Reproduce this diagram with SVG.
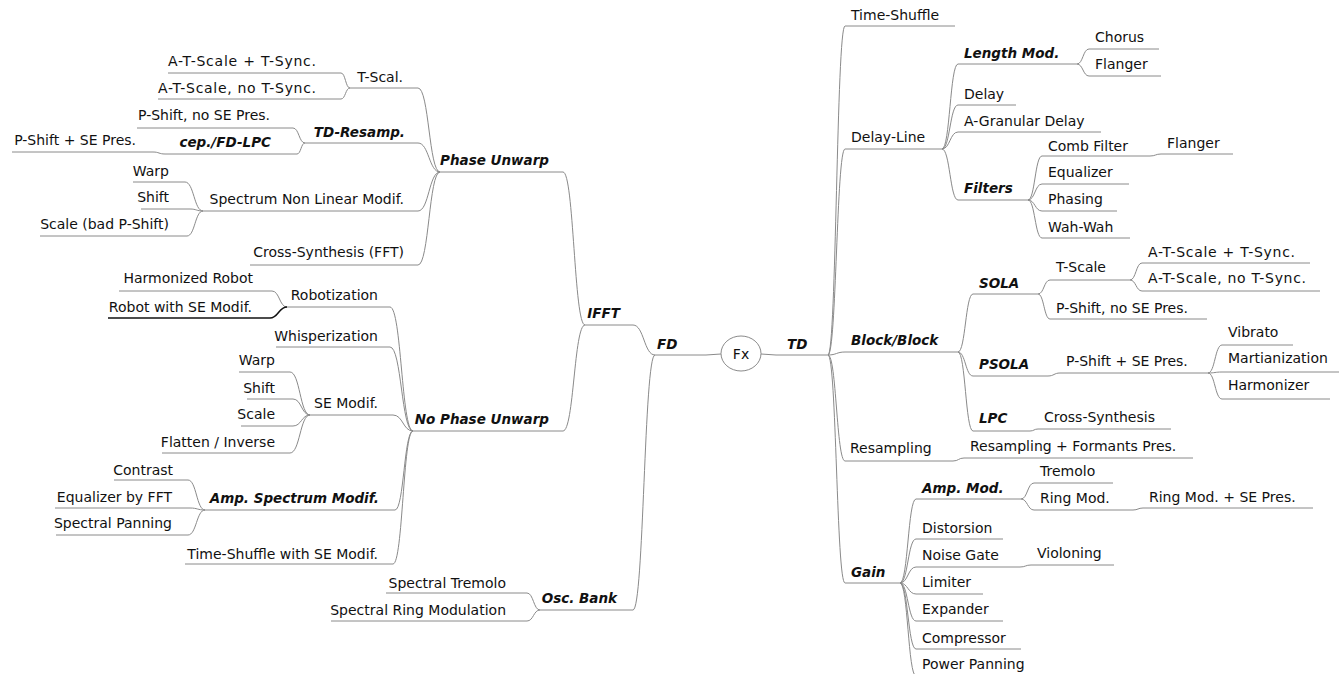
<svg xmlns="http://www.w3.org/2000/svg" width="1339" height="674" viewBox="0 0 1339 674">
<style>
text{font-family:"DejaVu Sans","Liberation Sans",sans-serif;font-size:14px;fill:#111}
.b{font-weight:bold;font-style:italic;font-size:13.5px}
.r{text-anchor:end}
.u{stroke:#8a8a8a;stroke-width:1;fill:none}
.e{stroke:#8a8a8a;stroke-width:1;fill:none}
.k{stroke:#111;stroke-width:1.5}
</style>
<rect width="1339" height="674" fill="#fff"/>
<g id="connectors">
<path class="e" d="M761,354 L776,355"/>
<path class="e" d="M706,355 L721,354"/>
<path class="e" d="M828,355 C836.5,355 836.5,26 845,26"/>
<path class="e" d="M828,355 C836.5,355 836.5,149 845,149"/>
<path class="e" d="M828,355 C836.5,355 836.5,352 845,352"/>
<path class="e" d="M828,355 C836.5,355 836.5,461 845,461"/>
<path class="e" d="M828,355 C836.5,355 836.5,583 845,583"/>
<path class="e" d="M942,149 C950,149 950,64 958,64"/>
<path class="e" d="M942,149 C950,149 950,105 958,105"/>
<path class="e" d="M942,149 C950,149 950,132 958,132"/>
<path class="e" d="M942,149 C950,149 950,200 958,200"/>
<path class="e" d="M1077,64 C1083,64 1083,49 1089,49"/>
<path class="e" d="M1077,64 C1083,64 1083,76 1089,76"/>
<path class="e" d="M1028,200 C1035,200 1035,156 1042,156"/>
<path class="e" d="M1028,200 C1035,200 1035,184 1042,184"/>
<path class="e" d="M1028,200 C1035,200 1035,211 1042,211"/>
<path class="e" d="M1028,200 C1035,200 1035,238 1042,238"/>
<path class="e" d="M1150,156 C1155.5,156 1155.5,154 1161,154"/>
<path class="e" d="M958,352 C965.5,352 965.5,294 973,294"/>
<path class="e" d="M958,352 C965.5,352 965.5,376 973,376"/>
<path class="e" d="M958,352 C965.5,352 965.5,431 973,431"/>
<path class="e" d="M1038,294 C1044,294 1044,280 1050,280"/>
<path class="e" d="M1038,294 C1044,294 1044,319 1050,319"/>
<path class="e" d="M1130,280 C1136,280 1136,263 1142,263"/>
<path class="e" d="M1130,280 C1136,280 1136,291 1142,291"/>
<path class="e" d="M1048,376 C1054,376 1054,373 1060,373"/>
<path class="e" d="M1208,373 C1215,373 1215,345 1222,345"/>
<path class="e" d="M1208,373 C1215,373 1215,372 1222,372"/>
<path class="e" d="M1208,373 C1215,373 1215,399 1222,399"/>
<path class="e" d="M1030,431 C1034,431 1034,429 1038,429"/>
<path class="e" d="M953,461 C958.5,461 958.5,458 964,458"/>
<path class="e" d="M900,583 C908,583 908,499 916,499"/>
<path class="e" d="M900,583 C908,583 908,539 916,539"/>
<path class="e" d="M900,583 C908,583 908,567 916,567"/>
<path class="e" d="M900,583 C908,583 908,594 916,594"/>
<path class="e" d="M900,583 C908,583 908,621 916,621"/>
<path class="e" d="M900,583 C908,583 908,649 916,649"/>
<path class="e" d="M900,583 C908,583 908,676 916,676"/>
<path class="e" d="M1021,499 C1027.5,499 1027.5,483 1034,483"/>
<path class="e" d="M1021,499 C1027.5,499 1027.5,510 1034,510"/>
<path class="e" d="M1133,510 C1138,510 1138,508 1143,508"/>
<path class="e" d="M1020,567 C1025.5,567 1025.5,565 1031,565"/>
<path class="e" d="M655,355 C644,355 644,325 633,325"/>
<path class="e" d="M655,355 C644,355 644,610 633,610"/>
<path class="e" d="M585,325 C574,325 574,172 563,172"/>
<path class="e" d="M585,325 C574,325 574,431 563,431"/>
<path class="e" d="M440,172 C429,172 429,88 418,88"/>
<path class="e" d="M440,172 C429,172 429,143 418,143"/>
<path class="e" d="M440,172 C429,172 429,211 418,211"/>
<path class="e" d="M440,172 C429,172 429,265 418,265"/>
<path class="e" d="M350,88 C345.5,88 345.5,73 341,73"/>
<path class="e" d="M350,88 C345.5,88 345.5,99 341,99"/>
<path class="e" d="M305,143 C299,143 299,128 293,128"/>
<path class="e" d="M305,143 C301,143 301,154 297,154"/>
<path class="e" d="M165,154 C159,154 159,152 153,152"/>
<path class="e" d="M203,211 C194,211 194,182 185,182"/>
<path class="e" d="M203,211 C196.5,211 196.5,209 190,209"/>
<path class="e" d="M203,211 C195,211 195,236 187,236"/>
<path class="e" d="M413,431 C401.5,431 401.5,307 390,307"/>
<path class="e" d="M413,431 C401.5,431 401.5,347 390,347"/>
<path class="e" d="M413,431 C403,431 403,415 393,415"/>
<path class="e" d="M413,431 C404,431 404,510 395,510"/>
<path class="e" d="M413,431 C403,431 403,564 393,564"/>
<path class="e" d="M287,307 C279.5,307 279.5,291 272,291"/>
<path class="e k" d="M287,307 C278.5,307 278.5,318 270,318"/>
<path class="e" d="M310,415 C300,415 300,372 290,372"/>
<path class="e" d="M310,415 C301.5,415 301.5,399 293,399"/>
<path class="e" d="M310,415 C301.5,415 301.5,426 293,426"/>
<path class="e" d="M310,415 C300,415 300,453 290,453"/>
<path class="e" d="M205,510 C196.5,510 196.5,480 188,480"/>
<path class="e" d="M205,510 C197.5,510 197.5,508 190,508"/>
<path class="e" d="M205,510 C196.5,510 196.5,535 188,535"/>
<path class="e" d="M540,610 C533.5,610 533.5,593 527,593"/>
<path class="e" d="M540,610 C533.5,610 533.5,621 527,621"/>
</g>
<g id="n-fx"><ellipse cx="741" cy="353.5" rx="20" ry="17.5" fill="#fff" stroke="#8a8a8a"/><text x="741" y="358.5" text-anchor="middle">Fx</text></g>
<g id="n-td"><line class="u" x1="776" y1="355" x2="828" y2="355"/><text class="b" x="787" y="349">TD</text></g>
<g id="n-timeshuffle"><line class="u" x1="845" y1="26" x2="955" y2="26"/><text x="851" y="20">Time-Shuffle</text></g>
<g id="n-delayline"><line class="u" x1="845" y1="149" x2="942" y2="149"/><text x="851" y="142">Delay-Line</text></g>
<g id="n-lengthmod"><line class="u" x1="958" y1="64" x2="1077" y2="64"/><text class="b" x="964" y="58">Length Mod.</text></g>
<g id="n-chorus"><line class="u" x1="1089" y1="49" x2="1159" y2="49"/><text x="1095" y="42">Chorus</text></g>
<g id="n-flanger1"><line class="u" x1="1089" y1="76" x2="1161" y2="76"/><text x="1095" y="69">Flanger</text></g>
<g id="n-delay"><line class="u" x1="958" y1="105" x2="1016" y2="105"/><text x="964" y="99">Delay</text></g>
<g id="n-agranular"><line class="u" x1="958" y1="132" x2="1101" y2="132"/><text x="964" y="126">A-Granular Delay</text></g>
<g id="n-filters"><line class="u" x1="958" y1="200" x2="1028" y2="200"/><text class="b" x="964" y="193">Filters</text></g>
<g id="n-comb"><line class="u" x1="1042" y1="156" x2="1150" y2="156"/><text x="1048" y="151">Comb Filter</text></g>
<g id="n-flanger2"><line class="u" x1="1161" y1="154" x2="1233" y2="154"/><text x="1167" y="148">Flanger</text></g>
<g id="n-equalizer"><line class="u" x1="1042" y1="184" x2="1129" y2="184"/><text x="1048" y="177">Equalizer</text></g>
<g id="n-phasing"><line class="u" x1="1042" y1="211" x2="1117" y2="211"/><text x="1048" y="204">Phasing</text></g>
<g id="n-wahwah"><line class="u" x1="1042" y1="238" x2="1130" y2="238"/><text x="1048" y="232">Wah-Wah</text></g>
<g id="n-block"><line class="u" x1="845" y1="352" x2="958" y2="352"/><text class="b" x="851" y="345">Block/Block</text></g>
<g id="n-sola"><line class="u" x1="973" y1="294" x2="1038" y2="294"/><text class="b" x="979" y="288">SOLA</text></g>
<g id="n-tscale"><line class="u" x1="1050" y1="280" x2="1130" y2="280"/><text x="1056" y="272">T-Scale</text></g>
<g id="n-ats1"><line class="u" x1="1142" y1="263" x2="1310" y2="263"/><text x="1148" y="257" textLength="147">A-T-Scale + T-Sync.</text></g>
<g id="n-ats2"><line class="u" x1="1142" y1="291" x2="1320" y2="291"/><text x="1148" y="283" textLength="158">A-T-Scale, no T-Sync.</text></g>
<g id="n-pshiftnose"><line class="u" x1="1050" y1="319" x2="1207" y2="319"/><text x="1056" y="313">P-Shift, no SE Pres.</text></g>
<g id="n-psola"><line class="u" x1="973" y1="376" x2="1048" y2="376"/><text class="b" x="979" y="369">PSOLA</text></g>
<g id="n-pshiftse"><line class="u" x1="1060" y1="373" x2="1208" y2="373"/><text x="1066" y="366">P-Shift + SE Pres.</text></g>
<g id="n-vibrato"><line class="u" x1="1222" y1="345" x2="1293" y2="345"/><text x="1228" y="337">Vibrato</text></g>
<g id="n-martian"><line class="u" x1="1222" y1="372" x2="1339" y2="372"/><text x="1228" y="363">Martianization</text></g>
<g id="n-harmonizer"><line class="u" x1="1222" y1="399" x2="1330" y2="399"/><text x="1228" y="390">Harmonizer</text></g>
<g id="n-lpc"><line class="u" x1="973" y1="431" x2="1030" y2="431"/><text class="b" x="979" y="423">LPC</text></g>
<g id="n-crosssynth"><line class="u" x1="1038" y1="429" x2="1171" y2="429"/><text x="1044" y="422">Cross-Synthesis</text></g>
<g id="n-resampling"><line class="u" x1="845" y1="461" x2="953" y2="461"/><text x="850" y="453">Resampling</text></g>
<g id="n-resformants"><line class="u" x1="964" y1="458" x2="1193" y2="458"/><text x="970" y="451">Resampling + Formants Pres.</text></g>
<g id="n-gain"><line class="u" x1="845" y1="583" x2="900" y2="583"/><text class="b" x="851" y="577">Gain</text></g>
<g id="n-ampmod"><line class="u" x1="916" y1="499" x2="1021" y2="499"/><text class="b" x="922" y="493">Amp. Mod.</text></g>
<g id="n-tremolo"><line class="u" x1="1034" y1="483" x2="1113" y2="483"/><text x="1040" y="476">Tremolo</text></g>
<g id="n-ringmod"><line class="u" x1="1034" y1="510" x2="1133" y2="510"/><text x="1040" y="503">Ring Mod.</text></g>
<g id="n-ringmodse"><line class="u" x1="1143" y1="508" x2="1313" y2="508"/><text x="1149" y="502">Ring Mod. + SE Pres.</text></g>
<g id="n-distorsion"><line class="u" x1="916" y1="539" x2="1003" y2="539"/><text x="922" y="533">Distorsion</text></g>
<g id="n-noisegate"><line class="u" x1="916" y1="567" x2="1020" y2="567"/><text x="922" y="560">Noise Gate</text></g>
<g id="n-violoning"><line class="u" x1="1031" y1="565" x2="1114" y2="565"/><text x="1037" y="558">Violoning</text></g>
<g id="n-limiter"><line class="u" x1="916" y1="594" x2="983" y2="594"/><text x="922" y="587">Limiter</text></g>
<g id="n-expander"><line class="u" x1="916" y1="621" x2="1003" y2="621"/><text x="922" y="614">Expander</text></g>
<g id="n-compressor"><line class="u" x1="916" y1="649" x2="1021" y2="649"/><text x="922" y="643">Compressor</text></g>
<g id="n-powerpanning"><line class="u" x1="916" y1="676" x2="1030" y2="676"/><text x="922" y="669">Power Panning</text></g>
<g id="n-fd"><line class="u" x1="655" y1="355" x2="706" y2="355"/><text class="b" x="657" y="349">FD</text></g>
<g id="n-ifft"><line class="u" x1="585" y1="325" x2="633" y2="325"/><text class="b r" x="620" y="318">IFFT</text></g>
<g id="n-phaseunwarp"><line class="u" x1="440" y1="172" x2="563" y2="172"/><text class="b r" x="549" y="165">Phase Unwarp</text></g>
<g id="n-tscal"><line class="u" x1="350" y1="88" x2="418" y2="88"/><text class="r" x="403" y="82">T-Scal.</text></g>
<g id="n-lats1"><line class="u" x1="168" y1="73" x2="341" y2="73"/><text class="r" x="316" y="66" textLength="148">A-T-Scale + T-Sync.</text></g>
<g id="n-lats2"><line class="u" x1="158" y1="99" x2="341" y2="99"/><text class="r" x="316" y="93" textLength="158">A-T-Scale, no T-Sync.</text></g>
<g id="n-tdresamp"><line class="u" x1="305" y1="143" x2="418" y2="143"/><text class="b r" x="405" y="137">TD-Resamp.</text></g>
<g id="n-lpshiftnose"><line class="u" x1="137" y1="128" x2="293" y2="128"/><text class="r" x="270" y="120">P-Shift, no SE Pres.</text></g>
<g id="n-cep"><line class="u" x1="165" y1="154" x2="297" y2="154"/><text class="b r" x="271" y="147">cep./FD-LPC</text></g>
<g id="n-lpshiftse"><line class="u" x1="12" y1="152" x2="153" y2="152"/><text class="r" x="136" y="145">P-Shift + SE Pres.</text></g>
<g id="n-snlm"><line class="u" x1="203" y1="211" x2="418" y2="211"/><text class="r" x="404" y="204">Spectrum Non Linear Modif.</text></g>
<g id="n-warp1"><line class="u" x1="133" y1="182" x2="185" y2="182"/><text class="r" x="169" y="176">Warp</text></g>
<g id="n-shift1"><line class="u" x1="141" y1="209" x2="190" y2="209"/><text class="r" x="169" y="202">Shift</text></g>
<g id="n-scalebad"><line class="u" x1="40" y1="236" x2="187" y2="236"/><text class="r" x="169" y="229">Scale (bad P-Shift)</text></g>
<g id="n-crossfft"><line class="u" x1="250" y1="265" x2="418" y2="265"/><text class="r" x="404" y="257">Cross-Synthesis (FFT)</text></g>
<g id="n-nophase"><line class="u" x1="413" y1="431" x2="563" y2="431"/><text class="b r" x="549" y="424">No Phase Unwarp</text></g>
<g id="n-robotization"><line class="u" x1="287" y1="307" x2="390" y2="307"/><text class="r" x="378" y="300">Robotization</text></g>
<g id="n-harmrobot"><line class="u" x1="119" y1="291" x2="272" y2="291"/><text class="r" x="253" y="283">Harmonized Robot</text></g>
<g id="n-robotse"><line class="u k" x1="108" y1="318" x2="270" y2="318"/><text class="r" x="252" y="312">Robot with SE Modif.</text></g>
<g id="n-whisper"><line class="u" x1="276" y1="347" x2="390" y2="347"/><text class="r" x="378" y="341">Whisperization</text></g>
<g id="n-semodif"><line class="u" x1="310" y1="415" x2="393" y2="415"/><text class="r" x="378" y="408">SE Modif.</text></g>
<g id="n-warp2"><line class="u" x1="239" y1="372" x2="290" y2="372"/><text class="r" x="275" y="365">Warp</text></g>
<g id="n-shift2"><line class="u" x1="247" y1="399" x2="293" y2="399"/><text class="r" x="275" y="393">Shift</text></g>
<g id="n-scale2"><line class="u" x1="241" y1="426" x2="293" y2="426"/><text class="r" x="275" y="419">Scale</text></g>
<g id="n-flatten"><line class="u" x1="162" y1="453" x2="290" y2="453"/><text class="r" x="275" y="447">Flatten / Inverse</text></g>
<g id="n-ampspec"><line class="u" x1="205" y1="510" x2="395" y2="510"/><text class="b r" x="379" y="503">Amp. Spectrum Modif.</text></g>
<g id="n-contrast"><line class="u" x1="114" y1="480" x2="188" y2="480"/><text class="r" x="173" y="475">Contrast</text></g>
<g id="n-eqfft"><line class="u" x1="55" y1="508" x2="190" y2="508"/><text class="r" x="172" y="502">Equalizer by FFT</text></g>
<g id="n-specpan"><line class="u" x1="56" y1="535" x2="188" y2="535"/><text class="r" x="172" y="528">Spectral Panning</text></g>
<g id="n-tsse"><line class="u" x1="185" y1="564" x2="393" y2="564"/><text class="r" x="378" y="559">Time-Shuffle with SE Modif.</text></g>
<g id="n-oscbank"><line class="u" x1="540" y1="610" x2="633" y2="610"/><text class="b r" x="617" y="603">Osc. Bank</text></g>
<g id="n-spectrem"><line class="u" x1="386" y1="593" x2="527" y2="593"/><text class="r" x="506" y="588">Spectral Tremolo</text></g>
<g id="n-specring"><line class="u" x1="331" y1="621" x2="527" y2="621"/><text class="r" x="506" y="615">Spectral Ring Modulation</text></g>
</svg>
